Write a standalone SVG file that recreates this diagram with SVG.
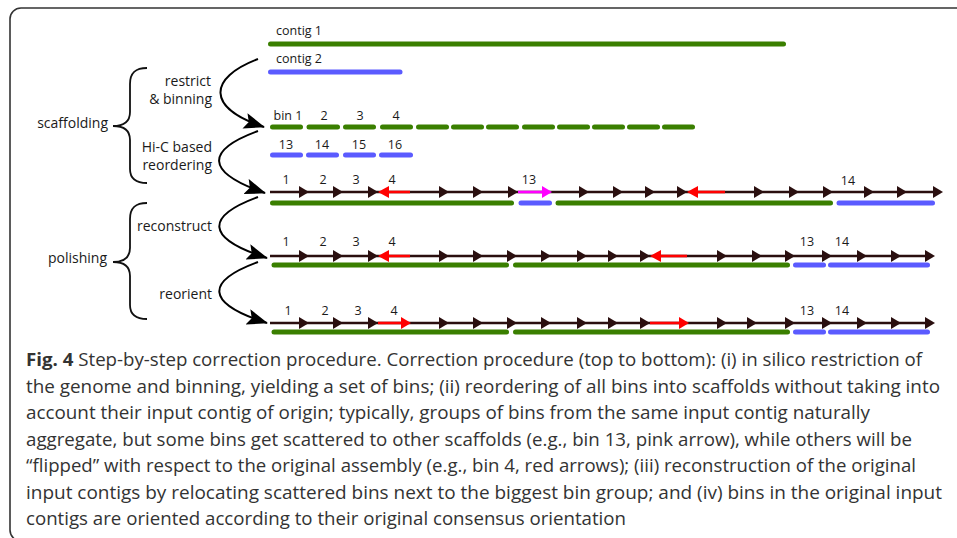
<svg xmlns="http://www.w3.org/2000/svg" xmlns:xlink="http://www.w3.org/1999/xlink" width="957" height="538" viewBox="0 0 957 538">
<style>
.lbl{font-family:"Open Sans","Noto Sans",sans-serif;font-size:12.5px;fill:#1a1a1a;text-anchor:middle}
.cl{font-family:"Open Sans","Noto Sans",sans-serif;font-size:12.5px;fill:#1a1a1a}
.side{font-family:"Open Sans","Noto Sans",sans-serif;font-size:14px;fill:#1a1a1a;text-anchor:end}
.cap{font-family:"Open Sans","Noto Sans",sans-serif;font-size:18px;fill:#333}
.g{stroke:#3a7f00;stroke-width:5;stroke-linecap:round;fill:none}
.b{stroke:#5b5bff;stroke-width:5;stroke-linecap:round;fill:none}
.dk{stroke:#2a0f0f;stroke-width:2.6;fill:none}
.rd{stroke:#ff0000;stroke-width:2.6;fill:none}
.mg{stroke:#ff00ff;stroke-width:2.6;fill:none}
.fdk{fill:#2a0f0f}
.frd{fill:#ff0000}
.fmg{fill:#ff00ff}
.brace{stroke:#111;stroke-width:1.8;fill:none}
.curve{stroke:#000;stroke-width:2;fill:none;marker-end:url(#big)}
</style>
<defs>
<path id="ah" d="M-10,-6 L0,0 L-10,6 Z"/>
<path id="ahl" d="M11,-6 L0,0 L11,6 Z"/>
<marker id="big" markerUnits="userSpaceOnUse" markerWidth="24" markerHeight="18" refX="20" refY="8" orient="auto">
<path d="M0,0 L21,8 L0,16 L4,8 Z" fill="#000"/>
</marker>
</defs>

<rect x="10" y="8" width="980" height="533" rx="11" fill="none" stroke="#333" stroke-width="1.6"/>

<g id="side-labels">
<text class="side" x="108" y="128">scaffolding</text>
<text class="side" x="211" y="86">restrict</text>
<text class="side" x="212" y="104">&amp; binning</text>
<text class="side" x="212" y="152">Hi-C based</text>
<text class="side" x="212" y="170">reordering</text>
<text class="side" x="107" y="263">polishing</text>
<text class="side" x="212" y="231">reconstruct</text>
<text class="side" x="212" y="299">reorient</text>
<path class="brace" d="M147,68 C136,68 130,72 130,84 L130,112 C130,121 124,126 113,126 C124,126 130,131 130,140 L130,169 C130,179 136,183 147,183"/>
<path class="brace" d="M147,203 C136,203 130,207 130,219 L130,248 C130,257 124,262 113,262 C124,262 130,267 130,276 L130,305 C130,315 136,319 147,319"/>
</g>

<g id="connectors">
<path class="curve" d="M258,59 C208,78 206,108 264,127"/>
<path class="curve" d="M258,131 C206,150 204,172 265,193"/>
<path class="curve" d="M258,197 C206,216 204,238 267,258"/>
<path class="curve" d="M258,262 C206,281 204,303 267,323"/>
</g>

<g id="contigs">
<text class="cl" x="276" y="35">contig 1</text>
<line class="g" x1="270.5" y1="44" x2="783.5" y2="44"/>
<text class="cl" x="276" y="63">contig 2</text>
<line class="b" x1="270.5" y1="72" x2="400" y2="72"/>
</g>

<g id="bins">
<text class="lbl" x="288" y="120">bin 1</text>
<text class="lbl" x="324" y="120">2</text>
<text class="lbl" x="360" y="120">3</text>
<text class="lbl" x="396" y="120">4</text>
<g class="g">
<line x1="272.5" y1="127" x2="300.5" y2="127"/>
<line x1="309" y1="127" x2="337.5" y2="127"/>
<line x1="345.5" y1="127" x2="373.5" y2="127"/>
<line x1="382.5" y1="127" x2="410.5" y2="127"/>
<line x1="418.5" y1="127" x2="446.5" y2="127"/>
<line x1="453.5" y1="127" x2="481.5" y2="127"/>
<line x1="488.5" y1="127" x2="516.5" y2="127"/>
<line x1="524.5" y1="127" x2="552.5" y2="127"/>
<line x1="559.5" y1="127" x2="587.5" y2="127"/>
<line x1="594.5" y1="127" x2="622.5" y2="127"/>
<line x1="629.5" y1="127" x2="657.5" y2="127"/>
<line x1="664.5" y1="127" x2="692.5" y2="127"/>
</g>
<text class="lbl" x="286" y="149">13</text>
<text class="lbl" x="322" y="149">14</text>
<text class="lbl" x="359" y="149">15</text>
<text class="lbl" x="395" y="149">16</text>
<g class="b">
<line x1="272.5" y1="155" x2="300.5" y2="155"/>
<line x1="308.5" y1="155" x2="336.5" y2="155"/>
<line x1="345.5" y1="155" x2="373.5" y2="155"/>
<line x1="381.5" y1="155" x2="410.5" y2="155"/>
</g>
</g>

<g id="scaffold-reordered">
<line class="dk" x1="270" y1="192" x2="934" y2="192"/>
<line class="rd" x1="389" y1="192" x2="410" y2="192"/>
<line class="mg" x1="518" y1="192" x2="543" y2="192"/>
<line class="rd" x1="698" y1="192" x2="725" y2="192"/>
<g class="fdk">
<use xlink:href="#ah" x="309" y="192"/><use xlink:href="#ah" x="343" y="192"/><use xlink:href="#ah" x="378" y="192"/>
<use xlink:href="#ah" x="449" y="192"/><use xlink:href="#ah" x="483" y="192"/><use xlink:href="#ah" x="518" y="192"/>
<use xlink:href="#ah" x="589" y="192"/><use xlink:href="#ah" x="623" y="192"/><use xlink:href="#ah" x="655" y="192"/>
<use xlink:href="#ah" x="687" y="192"/><use xlink:href="#ah" x="764" y="192"/><use xlink:href="#ah" x="799" y="192"/>
<use xlink:href="#ah" x="833" y="192"/><use xlink:href="#ah" x="874" y="192"/><use xlink:href="#ah" x="907" y="192"/>
<use xlink:href="#ah" x="943" y="192"/>
</g>
<use class="frd" xlink:href="#ahl" x="378" y="192"/>
<use class="frd" xlink:href="#ahl" x="687" y="192"/>
<use class="fmg" xlink:href="#ah" x="552" y="192"/>
<text class="lbl" x="286" y="184">1</text>
<text class="lbl" x="323" y="184">2</text>
<text class="lbl" x="356" y="184">3</text>
<text class="lbl" x="392" y="184">4</text>
<text class="lbl" x="529" y="184">13</text>
<text class="lbl" x="848" y="185">14</text>
<line class="g" x1="272.5" y1="203" x2="511.5" y2="203"/>
<line class="b" x1="521" y1="203" x2="549.5" y2="203"/>
<line class="g" x1="558" y1="203" x2="830.5" y2="203"/>
<line class="b" x1="839" y1="203" x2="932.5" y2="203"/>
</g>

<g id="scaffold-reconstructed">
<line class="dk" x1="270" y1="256" x2="926" y2="256"/>
<line class="rd" x1="389" y1="256" x2="410" y2="256"/>
<line class="rd" x1="661" y1="256" x2="687" y2="256"/>
<g class="fdk">
<use xlink:href="#ah" x="309" y="256"/><use xlink:href="#ah" x="343" y="256"/><use xlink:href="#ah" x="378" y="256"/>
<use xlink:href="#ah" x="449" y="256"/><use xlink:href="#ah" x="483" y="256"/><use xlink:href="#ah" x="517" y="256"/>
<use xlink:href="#ah" x="551" y="256"/><use xlink:href="#ah" x="587" y="256"/><use xlink:href="#ah" x="618" y="256"/>
<use xlink:href="#ah" x="650" y="256"/><use xlink:href="#ah" x="727" y="256"/><use xlink:href="#ah" x="762" y="256"/>
<use xlink:href="#ah" x="795" y="256"/><use xlink:href="#ah" x="832" y="256"/><use xlink:href="#ah" x="867" y="256"/>
<use xlink:href="#ah" x="901" y="256"/><use xlink:href="#ah" x="935" y="256"/>
</g>
<use class="frd" xlink:href="#ahl" x="378" y="256"/>
<use class="frd" xlink:href="#ahl" x="650" y="256"/>
<text class="lbl" x="286" y="246">1</text>
<text class="lbl" x="323" y="246">2</text>
<text class="lbl" x="356" y="246">3</text>
<text class="lbl" x="392" y="246">4</text>
<text class="lbl" x="807" y="246">13</text>
<text class="lbl" x="842" y="246">14</text>
<line class="g" x1="274" y1="265" x2="506.5" y2="265"/>
<line class="g" x1="515.5" y1="265" x2="787.5" y2="265"/>
<line class="b" x1="795.5" y1="265" x2="823.5" y2="265"/>
<line class="b" x1="830.5" y1="265" x2="927.5" y2="265"/>
</g>

<g id="scaffold-reoriented">
<line class="dk" x1="270" y1="323" x2="926" y2="323"/>
<line class="rd" x1="378" y1="323" x2="403" y2="323"/>
<line class="rd" x1="650" y1="323" x2="680" y2="323"/>
<g class="fdk">
<use xlink:href="#ah" x="309" y="323"/><use xlink:href="#ah" x="343" y="323"/><use xlink:href="#ah" x="378" y="323"/>
<use xlink:href="#ah" x="449" y="323"/><use xlink:href="#ah" x="483" y="323"/><use xlink:href="#ah" x="517" y="323"/>
<use xlink:href="#ah" x="551" y="323"/><use xlink:href="#ah" x="587" y="323"/><use xlink:href="#ah" x="618" y="323"/>
<use xlink:href="#ah" x="650" y="323"/><use xlink:href="#ah" x="727" y="323"/><use xlink:href="#ah" x="757" y="323"/>
<use xlink:href="#ah" x="795" y="323"/><use xlink:href="#ah" x="832" y="323"/><use xlink:href="#ah" x="867" y="323"/>
<use xlink:href="#ah" x="901" y="323"/><use xlink:href="#ah" x="935" y="323"/>
</g>
<use class="frd" xlink:href="#ah" x="411" y="323"/>
<use class="frd" xlink:href="#ah" x="689" y="323"/>
<text class="lbl" x="288" y="315">1</text>
<text class="lbl" x="325" y="315">2</text>
<text class="lbl" x="358" y="315">3</text>
<text class="lbl" x="394" y="315">4</text>
<text class="lbl" x="807" y="315">13</text>
<text class="lbl" x="842" y="315">14</text>
<line class="g" x1="274" y1="332" x2="506.5" y2="332"/>
<line class="g" x1="515.5" y1="332" x2="787.5" y2="332"/>
<line class="b" x1="795.5" y1="332" x2="823.5" y2="332"/>
<line class="b" x1="830.5" y1="332" x2="927.5" y2="332"/>
</g>

<g id="caption">
<text class="cap" x="26" y="366" textLength="896" lengthAdjust="spacingAndGlyphs"><tspan font-weight="bold">Fig. 4</tspan> Step-by-step correction procedure. Correction procedure (top to bottom): (i) in silico restriction of</text>
<text class="cap" x="26" y="392.5" textLength="914" lengthAdjust="spacingAndGlyphs">the genome and binning, yielding a set of bins; (ii) reordering of all bins into scaffolds without taking into</text>
<text class="cap" x="26" y="419" textLength="844" lengthAdjust="spacingAndGlyphs">account their input contig of origin; typically, groups of bins from the same input contig naturally</text>
<text class="cap" x="26" y="445.5" textLength="886" lengthAdjust="spacingAndGlyphs">aggregate, but some bins get scattered to other scaffolds (e.g., bin 13, pink arrow), while others will be</text>
<text class="cap" x="26" y="472" textLength="890" lengthAdjust="spacingAndGlyphs">“flipped” with respect to the original assembly (e.g., bin 4, red arrows); (iii) reconstruction of the original</text>
<text class="cap" x="26" y="498.5" textLength="916" lengthAdjust="spacingAndGlyphs">input contigs by relocating scattered bins next to the biggest bin group; and (iv) bins in the original input</text>
<text class="cap" x="26" y="525" textLength="600" lengthAdjust="spacingAndGlyphs">contigs are oriented according to their original consensus orientation</text>
</g>
</svg>
